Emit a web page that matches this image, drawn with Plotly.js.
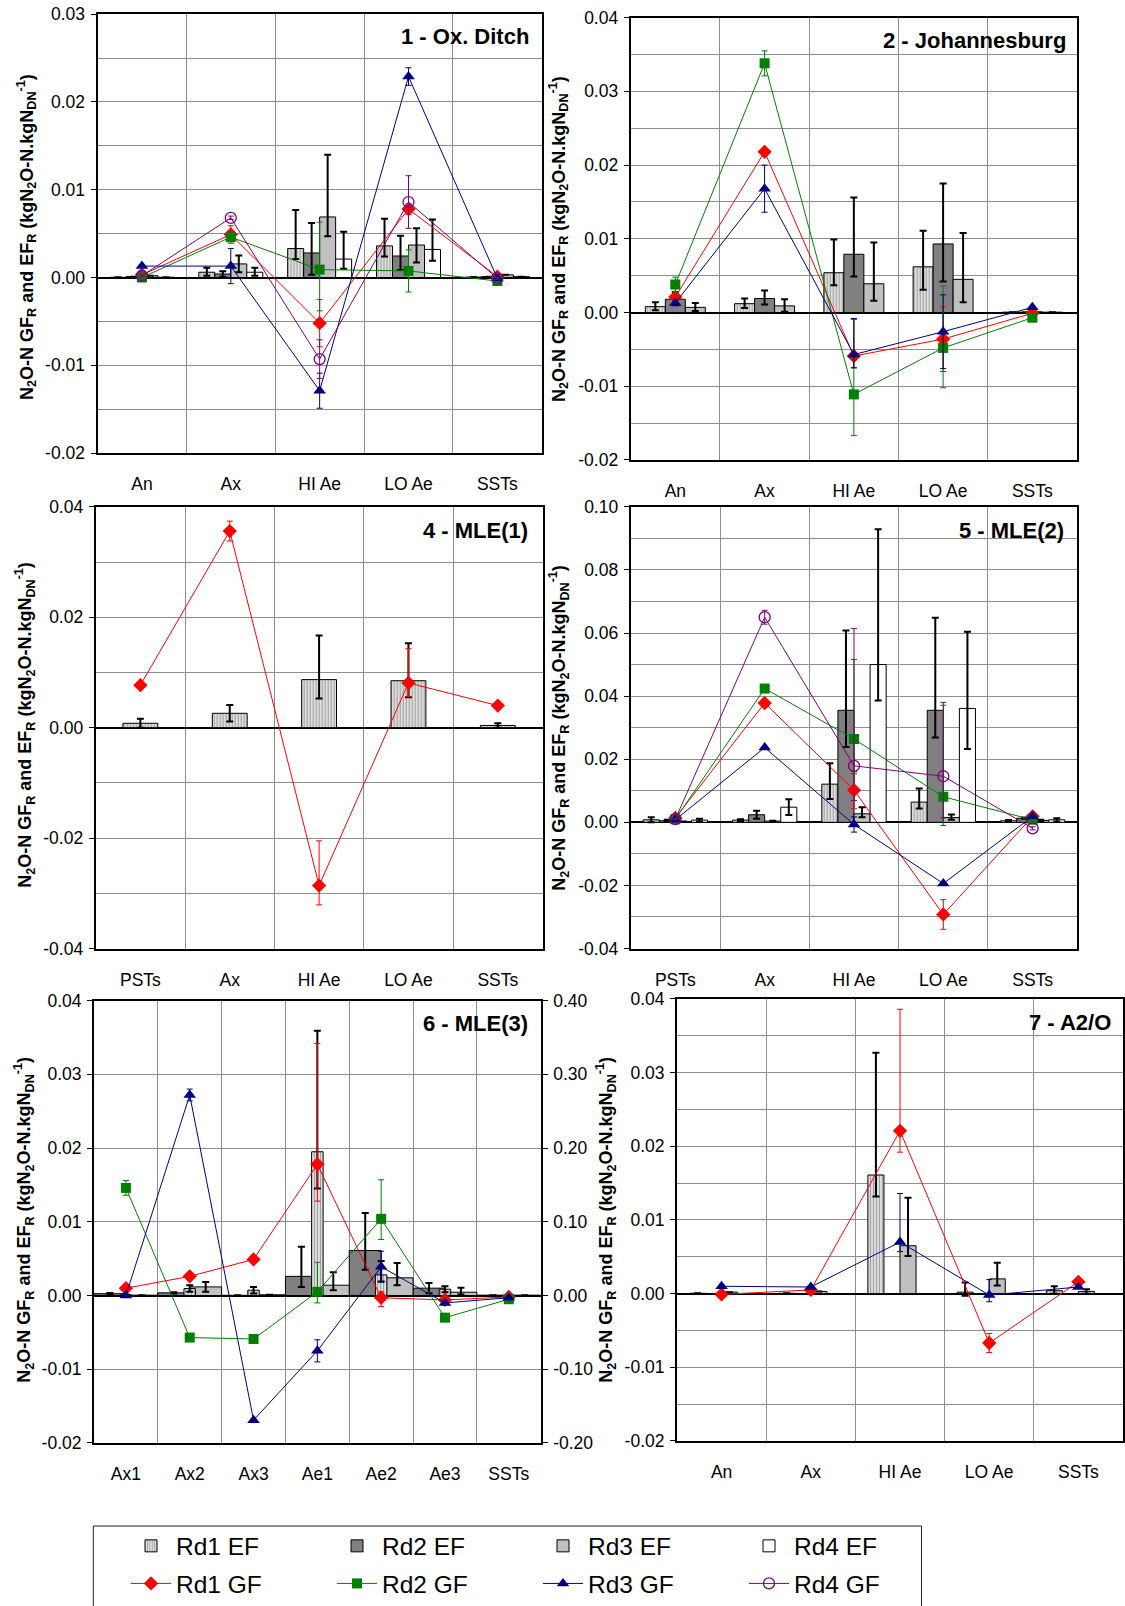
<!DOCTYPE html>
<html>
<head>
<meta charset="utf-8">
<script src="https://cdn.plot.ly/plotly-3.0.1.min.js"></script>
<style>html,body{margin:0;padding:0;background:#fff;}#chart{width:1125px;height:1606px;}</style>
</head>
<body>
<div id="chart"></div>
<script>
// ---------------- DATA ----------------
const catsA = ['An', 'Ax', 'HI Ae', 'LO Ae', 'SSTs'];
const catsP = ['PSTs', 'Ax', 'HI Ae', 'LO Ae', 'SSTs'];
const cats6 = ['Ax1', 'Ax2', 'Ax3', 'Ae1', 'Ae2', 'Ae3', 'SSTs'];

// y tick values (labels)
const ticks1 = [-0.02, -0.01, 0, 0.01, 0.02, 0.03];
const ticks2 = [-0.02, -0.01, 0, 0.01, 0.02, 0.03, 0.04];
const ticks4 = [-0.04, -0.02, 0, 0.02, 0.04];
const ticks5 = [-0.04, -0.02, 0, 0.02, 0.04, 0.06, 0.08, 0.10];
const ticks6 = [-0.02, -0.01, 0, 0.01, 0.02, 0.03, 0.04];
const ticks6r = [-0.20, -0.10, 0, 0.10, 0.20, 0.30, 0.40];
const ticks7 = [-0.02, -0.01, 0, 0.01, 0.02, 0.03, 0.04];

// Panel 1 - Ox. Ditch
const p1_ef1 = [0.00002, 0.0006, 0.0033, 0.0036, 0.00005];
const p1_ef1_up = [0, 0.0005, 0.0044, 0.0031, 0];
const p1_ef1_dn = [0, 0.0004, 0.0012, 0.0012, 0];
const p1_ef2 = [0.0001, 0.0004, 0.0028, 0.00245, 0.0001];
const p1_ef2_up = [0, 0.0003, 0.0034, 0.0023, 0];
const p1_ef2_dn = [0, 0.0003, 0.0025, 0.0016, 0];
const p1_ef3 = [0.0002, 0.00155, 0.0069, 0.0037, 0.0003];
const p1_ef3_up = [0, 0.00095, 0.0071, 0.0019, 0];
const p1_ef3_dn = [0, 0.00095, 0.0022, 0.002, 0];
const p1_ef4 = [0.00003, 0.0006, 0.0021, 0.0032, 0.0001];
const p1_ef4_up = [0, 0.0005, 0.0031, 0.0034, 0];
const p1_ef4_dn = [0, 0.0004, 0.0011, 0.0013, 0];
const p1_gf1 = [0.0003, 0.0049, -0.0052, 0.0078, 0.0001];
const p1_gf1_up = [0.0002, 0.001, 0.0027, 0.0006, 0.0001];
const p1_gf1_dn = [0.0002, 0.001, 0.0027, 0.0006, 0.0001];
const p1_gf2 = [0.0, 0.0046, 0.0009, 0.00075, -0.0004];
const p1_gf2_up = [0.0002, 0.0003, 0.0054, 0.0024, 0.0001];
const p1_gf2_dn = [0.0002, 0.0003, 0.0047, 0.0024, 0.0001];
const p1_gf3 = [0.0013, 0.0013, -0.0129, 0.0229, -0.0001];
const p1_gf3_up = [0.0001, 0.002, 0.002, 0.001, 0.0001];
const p1_gf3_dn = [0.0001, 0.002, 0.002, 0.001, 0.0001];
const p1_gf4 = [0.0002, 0.0068, -0.0093, 0.0086, -0.0001];
const p1_gf4_up = [0.0001, 0.0002, 0.0022, 0.003, 0.0001];
const p1_gf4_dn = [0.0001, 0.0002, 0.0022, 0.003, 0.0001];

// Panel 2 - Johannesburg
const p2_ef1 = [0.0008, 0.0012, 0.0054, 0.0062, 0.00005];
const p2_ef1_up = [0.0006, 0.0007, 0.0045, 0.0049, 0];
const p2_ef1_dn = [0.0005, 0.0006, 0.0017, 0.0031, 0];
const p2_ef2 = [0.0018, 0.0019, 0.0079, 0.0093, 0.0001];
const p2_ef2_up = [0.001, 0.0011, 0.0077, 0.0082, 0];
const p2_ef2_dn = [0.0008, 0.0008, 0.003, 0.0051, 0];
const p2_ef3 = [0.0007, 0.0009, 0.0039, 0.0045, 0.00005];
const p2_ef3_up = [0.0006, 0.0009, 0.0056, 0.0063, 0];
const p2_ef3_dn = [0.0005, 0.0008, 0.0023, 0.0031, 0];
const p2_gf1 = [0.0021, 0.0218, -0.0059, -0.0036, -0.0001];
const p2_gf1_up = [0.0003, 0.0004, 0.005, 0.0044, 0.0001];
const p2_gf1_dn = [0.0003, 0.0004, 0.0016, 0.0044, 0.0001];
const p2_gf2 = [0.0038, 0.0338, -0.0111, -0.0048, -0.0007];
const p2_gf2_up = [0.001, 0.0017, 0.0102, 0.0084, 0.0001];
const p2_gf2_dn = [0.001, 0.0017, 0.0056, 0.0054, 0.0001];
const p2_gf3 = [0.0013, 0.0168, -0.0057, -0.0026, 0.0007];
const p2_gf3_up = [0.0003, 0.0032, 0.0049, 0.005, 0.0001];
const p2_gf3_dn = [0.0003, 0.0032, 0.0018, 0.005, 0.0001];

// Panel 4 - MLE(1)
const p4_ef1 = [0.0008, 0.0026, 0.0087, 0.0085, 0.0004];
const p4_ef1_up = [0.0008, 0.0015, 0.008, 0.0068, 0.0004];
const p4_ef1_dn = [0.0008, 0.0015, 0.0034, 0.003, 0.0004];
const p4_gf1 = [0.0077, 0.0356, -0.0286, 0.0081, 0.004];
const p4_gf1_up = [0.0004, 0.0018, 0.0081, 0.0062, 0.0002];
const p4_gf1_dn = [0.0004, 0.0018, 0.0035, 0.0025, 0.0002];

// Panel 5 - MLE(2)
const p5_ef1 = [0.0008, 0.0007, 0.0121, 0.0064, 0.0005];
const p5_ef1_up = [0.0008, 0.0003, 0.0066, 0.0043, 0.0002];
const p5_ef1_dn = [0.0008, 0.0003, 0.0047, 0.002, 0.0002];
const p5_ef2 = [0.0005, 0.0024, 0.0355, 0.0355, 0.0013];
const p5_ef2_up = [0.0003, 0.0013, 0.0253, 0.0293, 0.0002];
const p5_ef2_dn = [0.0003, 0.0013, 0.0116, 0.0086, 0.0002];
const p5_ef3 = [0.0002, 0.0004, 0.0027, 0.0015, 0.0006];
const p5_ef3_up = [0.0001, 0.0001, 0.0021, 0.001, 0.0002];
const p5_ef3_dn = [0.0001, 0.0001, 0.0011, 0.0007, 0.0002];
const p5_ef4 = [0.0007, 0.0048, 0.05, 0.0361, 0.0008];
const p5_ef4_up = [0.0004, 0.0025, 0.0429, 0.0243, 0.0005];
const p5_ef4_dn = [0.0004, 0.0025, 0.0114, 0.0129, 0.0005];
const p5_gf1 = [0.0014, 0.0378, 0.0102, -0.0292, 0.0019];
const p5_gf1_up = [0.0002, 0.0006, 0.0059, 0.0047, 0.0002];
const p5_gf1_dn = [0.0002, 0.0006, 0.0059, 0.0047, 0.0002];
const p5_gf2 = [0.001, 0.0424, 0.0264, 0.0081, 0.0008];
const p5_gf2_up = [0.0002, 0.0005, 0.0252, 0.029, 0.0002];
const p5_gf2_dn = [0.0002, 0.0005, 0.011, 0.0091, 0.0002];
const p5_gf3 = [0.0008, 0.0237, -0.0007, -0.0194, 0.0019];
const p5_gf3_up = [0.0001, 0.0003, 0.0024, 0.0003, 0.0002];
const p5_gf3_dn = [0.0001, 0.0003, 0.0024, 0.0003, 0.0002];
const p5_gf4 = [0.001, 0.065, 0.0179, 0.0146, -0.0019];
const p5_gf4_up = [0.0002, 0.0022, 0.0435, 0.0234, 0.0005];
const p5_gf4_dn = [0.0002, 0.0022, 0.011, 0.0132, 0.0005];

// Panel 6 - MLE(3)
const p6_ef1 = [0.0001, 0.00095, 0.00072, 0.0195, 0.0028, 0.00086, 0.00002];
const p6_ef1_up = [0, 0.00045, 0.00045, 0.0164, 0.0019, 0.0004, 0];
const p6_ef1_dn = [0, 0.00045, 0.00045, 0.005, 0.0009, 0.0004, 0];
const p6_ef2 = [0.00025, 0.00036, 0.00003, 0.0026, 0.0061, 0.001, 0.00005];
const p6_ef2_up = [0.0001, 0.0001, 0, 0.004, 0.0051, 0.0007, 0];
const p6_ef2_dn = [0.0001, 0.0001, 0, 0.00144, 0.0026, 0.0007, 0];
const p6_ef3 = [0.00005, 0.00117, 0.0001, 0.0014, 0.0024, 0.00045, 0.00005];
const p6_ef3_up = [0, 0.00065, 0, 0.00175, 0.002, 0.0006, 0];
const p6_ef3_dn = [0, 0.00065, 0, 0.00068, 0.001, 0.0003, 0];
const p6_gf1 = [0.001, 0.0026, 0.0049, 0.0178, -0.0003, -0.0006, -0.0002];
const p6_gf1_up = [0.0001, 0.0001, 0.0001, 0.0164, 0.0008, 0.0002, 0.0001];
const p6_gf1_dn = [0.0001, 0.0001, 0.0001, 0.005, 0.0012, 0.0002, 0.0001];
const p6_gf2 = [0.0146, -0.0057, -0.0059, 0.0005, 0.0104, -0.003, -0.0005];
const p6_gf2_up = [0.001, 0.0001, 0.0001, 0.004, 0.0053, 0.0002, 0.0001];
const p6_gf2_dn = [0.001, 0.0001, 0.0001, 0.0015, 0.0028, 0.0002, 0.0001];
const p6_gf3 = [0.0, 0.0272, -0.0169, -0.0075, 0.0039, -0.001, -0.0003];
const p6_gf3_up = [0.0001, 0.0008, 0.0001, 0.0015, 0.0021, 0.0002, 0.0001];
const p6_gf3_dn = [0.0001, 0.0008, 0.0001, 0.0015, 0.0021, 0.0002, 0.0001];

// Panel 7 - A2/O
const p7_ef1 = [0.00005, 0.00005, 0.0161, 0.0002, 0.0004];
const p7_ef1_up = [0, 0, 0.0166, 0.0013, 0.0006];
const p7_ef1_dn = [0, 0, 0.0029, 0.0005, 0.0004];
const p7_ef3 = [0.0002, 0.0003, 0.0065, 0.002, 0.0003];
const p7_ef3_up = [0, 0, 0.0065, 0.0022, 0.0003];
const p7_ef3_dn = [0, 0, 0.0014, 0.0009, 0.0003];
const p7_gf1 = [-0.0001, 0.0005, 0.0221, -0.0067, 0.0016];
const p7_gf1_up = [0.0001, 0.0001, 0.0165, 0.0013, 0.0002];
const p7_gf1_dn = [0.0001, 0.0001, 0.0029, 0.0013, 0.0002];
const p7_gf3 = [0.001, 0.0009, 0.007, -0.0002, 0.0009];
const p7_gf3_up = [0.0001, 0.0001, 0.0066, 0.0021, 0.0001];
const p7_gf3_dn = [0.0001, 0.0001, 0.0013, 0.0009, 0.0001];

const seriesNames = ['Rd1 EF', 'Rd2 EF', 'Rd3 EF', 'Rd4 EF', 'Rd1 GF', 'Rd2 GF', 'Rd3 GF', 'Rd4 GF'];
const panelTitles = ['1 - Ox. Ditch', '2 - Johannesburg', '4 - MLE(1)', '5 - MLE(2)', '6 - MLE(3)', '7 - A2/O'];

// ---------------- STYLE ----------------
const W = 1125, H = 1606;
const FONT = 'Liberation Sans, Arial, sans-serif';
const GRID = '#8e8e8e';
const px = v => v / W;
const py = v => 1 - v / H;

const EFSTYLE = [
  {color: '#d6d6d6', pattern: {shape: '|', fgcolor: '#9c9c9c', bgcolor: '#dcdcdc', size: 3, solidity: 0.3}},
  {color: '#808080'},
  {color: '#c0c0c0'},
  {color: '#ffffff'}
];
const GFSTYLE = [
  {color: '#ff0000', symbol: 'diamond', size: 11},
  {color: '#008000', symbol: 'square', size: 10},
  {color: '#000080', symbol: 'triangle-up', size: 11},
  {color: '#800080', symbol: 'circle-open', size: 11}
];

const traces = [];
function ef(idx, xa, ya, cats, vals, up, dn, offset, width, leg) {
  const st = EFSTYLE[idx];
  const m = {color: st.color, line: {color: '#000', width: 1}};
  if (st.pattern) m.pattern = st.pattern;
  traces.push({
    type: 'bar', name: seriesNames[idx], x: cats, y: vals, xaxis: xa, yaxis: ya,
    offset: offset, width: width, marker: m,
    error_y: {type: 'data', symmetric: false, array: up, arrayminus: dn, color: '#000', thickness: 2, width: 3.5},
    showlegend: !!leg, legend: 'legend', hoverinfo: 'skip'
  });
}
function gf(idx, xa, ya, cats, vals, up, dn, leg) {
  const st = GFSTYLE[idx];
  traces.push({
    type: 'scatter', mode: 'lines+markers', name: seriesNames[idx + 4], x: cats, y: vals, xaxis: xa, yaxis: ya,
    line: {color: st.color, width: 1},
    marker: {symbol: st.symbol, size: st.size, color: st.color, line: {color: st.color, width: idx === 3 ? 1.3 : 0}},
    error_y: {type: 'data', symmetric: false, array: up, arrayminus: dn, color: st.color, thickness: 1, width: 3},
    showlegend: !!leg, legend: 'legend2', hoverinfo: 'skip'
  });
}

// Panel 1
ef(0, 'x', 'y', catsA, p1_ef1, p1_ef1_up, p1_ef1_dn, -0.36, 0.18, true);
ef(1, 'x', 'y', catsA, p1_ef2, p1_ef2_up, p1_ef2_dn, -0.18, 0.18, true);
ef(2, 'x', 'y', catsA, p1_ef3, p1_ef3_up, p1_ef3_dn, 0, 0.18, true);
ef(3, 'x', 'y', catsA, p1_ef4, p1_ef4_up, p1_ef4_dn, 0.18, 0.18, true);
// Panel 2
ef(0, 'x2', 'y2', catsA, p2_ef1, p2_ef1_up, p2_ef1_dn, -0.336, 0.224);
ef(1, 'x2', 'y2', catsA, p2_ef2, p2_ef2_up, p2_ef2_dn, -0.112, 0.224);
ef(2, 'x2', 'y2', catsA, p2_ef3, p2_ef3_up, p2_ef3_dn, 0.112, 0.224);
// Panel 4
ef(0, 'x3', 'y3', catsP, p4_ef1, p4_ef1_up, p4_ef1_dn, -0.195, 0.39);
// Panel 5
ef(0, 'x4', 'y4', catsP, p5_ef1, p5_ef1_up, p5_ef1_dn, -0.36, 0.18);
ef(1, 'x4', 'y4', catsP, p5_ef2, p5_ef2_up, p5_ef2_dn, -0.18, 0.18);
ef(2, 'x4', 'y4', catsP, p5_ef3, p5_ef3_up, p5_ef3_dn, 0, 0.18);
ef(3, 'x4', 'y4', catsP, p5_ef4, p5_ef4_up, p5_ef4_dn, 0.18, 0.18);
// Panel 6
ef(1, 'x5', 'y5', cats6, p6_ef2, p6_ef2_up, p6_ef2_dn, -0.5, 0.5);
ef(2, 'x5', 'y5', cats6, p6_ef3, p6_ef3_up, p6_ef3_dn, 0, 0.5);
ef(0, 'x5', 'y5', cats6, p6_ef1, p6_ef1_up, p6_ef1_dn, -0.09, 0.18);
// Panel 7
ef(0, 'x6', 'y6', catsA, p7_ef1, p7_ef1_up, p7_ef1_dn, -0.36, 0.18);
ef(2, 'x6', 'y6', catsA, p7_ef3, p7_ef3_up, p7_ef3_dn, 0, 0.18);

// GF lines
gf(0, 'x', 'y', catsA, p1_gf1, p1_gf1_up, p1_gf1_dn, true);
gf(1, 'x', 'y', catsA, p1_gf2, p1_gf2_up, p1_gf2_dn, true);
gf(2, 'x', 'y', catsA, p1_gf3, p1_gf3_up, p1_gf3_dn, true);
gf(3, 'x', 'y', catsA, p1_gf4, p1_gf4_up, p1_gf4_dn, true);
gf(0, 'x2', 'y2', catsA, p2_gf1, p2_gf1_up, p2_gf1_dn);
gf(1, 'x2', 'y2', catsA, p2_gf2, p2_gf2_up, p2_gf2_dn);
gf(2, 'x2', 'y2', catsA, p2_gf3, p2_gf3_up, p2_gf3_dn);
gf(0, 'x3', 'y3', catsP, p4_gf1, p4_gf1_up, p4_gf1_dn);
gf(0, 'x4', 'y4', catsP, p5_gf1, p5_gf1_up, p5_gf1_dn);
gf(1, 'x4', 'y4', catsP, p5_gf2, p5_gf2_up, p5_gf2_dn);
gf(2, 'x4', 'y4', catsP, p5_gf3, p5_gf3_up, p5_gf3_dn);
gf(3, 'x4', 'y4', catsP, p5_gf4, p5_gf4_up, p5_gf4_dn);
gf(0, 'x5', 'y5', cats6, p6_gf1, p6_gf1_up, p6_gf1_dn);
gf(1, 'x5', 'y5', cats6, p6_gf2, p6_gf2_up, p6_gf2_dn);
gf(2, 'x5', 'y5', cats6, p6_gf3, p6_gf3_up, p6_gf3_dn);
gf(0, 'x6', 'y6', catsA, p7_gf1, p7_gf1_up, p7_gf1_dn);
gf(2, 'x6', 'y6', catsA, p7_gf3, p7_gf3_up, p7_gf3_dn);
// empty trace so the secondary (right) axis of panel 6 is drawn
traces.push({type: 'scatter', mode: 'markers', x: [], y: [], xaxis: 'x5', yaxis: 'y7', showlegend: false, hoverinfo: 'skip'});

// ---------------- AXES ----------------
const TICKFONT = {family: FONT, size: 17.5, color: '#000'};
function xax(x0, x1, anchor, cats) {
  return {
    domain: [px(x0), px(x1)], anchor: anchor, type: 'category',
    categoryorder: 'array', categoryarray: cats, range: [-0.5, cats.length - 0.5],
    tickson: 'boundaries', showgrid: true, gridcolor: GRID, gridwidth: 1,
    ticks: '', showline: true, linecolor: '#000', linewidth: 2, mirror: true,
    tickfont: TICKFONT, ticklabelstandoff: 14,
    zeroline: false, fixedrange: true
  };
}
function yax(y0, y1, anchor, range, tv, minor) {
  const a = {
    domain: [py(y1), py(y0)], anchor: anchor, range: range,
    tickmode: 'array', tickvals: tv, ticktext: tv.map(v => v.toFixed(2)),
    ticks: 'outside', ticklen: 5, tickwidth: 1, tickcolor: '#000',
    showgrid: true, gridcolor: GRID, gridwidth: 1,
    zeroline: true, zerolinecolor: '#000', zerolinewidth: 2,
    showline: true, linecolor: '#000', linewidth: 2, mirror: true,
    tickfont: TICKFONT, ticklabelstandoff: 2, fixedrange: true
  };
  if (minor) a.minor = {tickmode: 'linear', dtick: minor, tick0: 0, showgrid: true, gridcolor: GRID, gridwidth: 1, ticks: ''};
  return a;
}

const yTitle = '<b>N<sub>2</sub>O-N GF<sub>R</sub> and EF<sub>R</sub> (kgN<sub>2</sub>O-N.kgN<sub>DN</sub><sup>-1</sup>)</b>';
function ytitleAnn(x, y) {
  return {text: yTitle, xref: 'paper', yref: 'paper', x: px(x), y: py(y), xanchor: 'center', yanchor: 'middle',
    textangle: -90, showarrow: false, font: {family: FONT, size: 18, color: '#000'}};
}
function titleAnn(t, x, y) {
  return {text: '<b>' + t + '</b>', xref: 'paper', yref: 'paper', x: px(x), y: py(y), xanchor: 'right', yanchor: 'middle',
    showarrow: false, font: {family: FONT, size: 22, color: '#000'}};
}

const legendBase = {
  xref: 'paper', yref: 'paper', xanchor: 'left', yanchor: 'middle', orientation: 'h',
  entrywidth: 151, entrywidthmode: 'pixels', itemwidth: 40, bgcolor: 'rgba(0,0,0,0)',
  font: {family: FONT, size: 24.5, color: '#000'}, traceorder: 'normal', itemclick: false, itemdoubleclick: false
};

const layout = {
  width: W, height: H, margin: {l: 0, r: 0, t: 0, b: 0},
  paper_bgcolor: '#fff', plot_bgcolor: '#fff', barmode: 'overlay', showlegend: true,
  font: {family: FONT, color: '#000'},
  xaxis: xax(97.5, 541.8, 'y', catsA),
  yaxis: yax(14.3, 455, 'x', [-0.02, 0.03], ticks1, 0.005),
  xaxis2: xax(630.7, 1077, 'y2', catsA),
  yaxis2: yax(17.7, 462, 'x2', [-0.02, 0.04], ticks2, 0.005),
  xaxis3: xax(95.7, 542.5, 'y3', catsP),
  yaxis3: yax(509, 952.7, 'x3', [-0.04, 0.04], ticks4, 0.01),
  xaxis4: xax(630.7, 1077.3, 'y4', catsP),
  yaxis4: yax(509, 952.7, 'x4', [-0.04, 0.10], ticks5, 0.01),
  xaxis5: xax(94, 540.7, 'y5', cats6),
  yaxis5: yax(1005, 1449.3, 'x5', [-0.02, 0.04], ticks6, null),
  yaxis7: {
    overlaying: 'y5', anchor: 'x5', side: 'right', range: [-0.2, 0.4],
    tickmode: 'array', tickvals: ticks6r, ticktext: ticks6r.map(v => v.toFixed(2)),
    ticks: 'outside', ticklen: 5, tickwidth: 1, tickcolor: '#000',
    showgrid: false, zeroline: false, showline: true, linecolor: '#000', linewidth: 2,
    tickfont: TICKFONT, ticklabelstandoff: 2, fixedrange: true
  },
  xaxis6: xax(677, 1123, 'y6', catsA),
  yaxis6: yax(1003.3, 1447.3, 'x6', [-0.02, 0.04], ticks7, 0.005),
  legend: Object.assign({}, legendBase, {x: px(126), y: py(1552.7)}),
  legend2: Object.assign({}, legendBase, {x: px(126), y: py(1590.7)}),
  shapes: [
    {type: 'rect', xref: 'paper', yref: 'paper', x0: px(93.3), x1: px(921.5), y0: py(1532.7), y1: py(1620),
     line: {color: '#222', width: 1}, fillcolor: 'rgba(0,0,0,0)', layer: 'below'}
  ],
  annotations: [
    titleAnn(panelTitles[0], 531, 36.7),
    titleAnn(panelTitles[1], 1068, 40.7),
    titleAnn(panelTitles[2], 530, 532.7),
    titleAnn(panelTitles[3], 1065.6, 532.7),
    titleAnn(panelTitles[4], 530, 1028),
    titleAnn(panelTitles[5], 1113, 1026.7),
    ytitleAnn(27, 238),
    ytitleAnn(559, 240),
    ytitleAnn(25, 728),
    ytitleAnn(559, 731),
    ytitleAnn(24, 1225),
    ytitleAnn(606, 1225)
  ]
};

Plotly.newPlot('chart', traces, layout, {staticPlot: true, displayModeBar: false});
</script>
</body>
</html>
